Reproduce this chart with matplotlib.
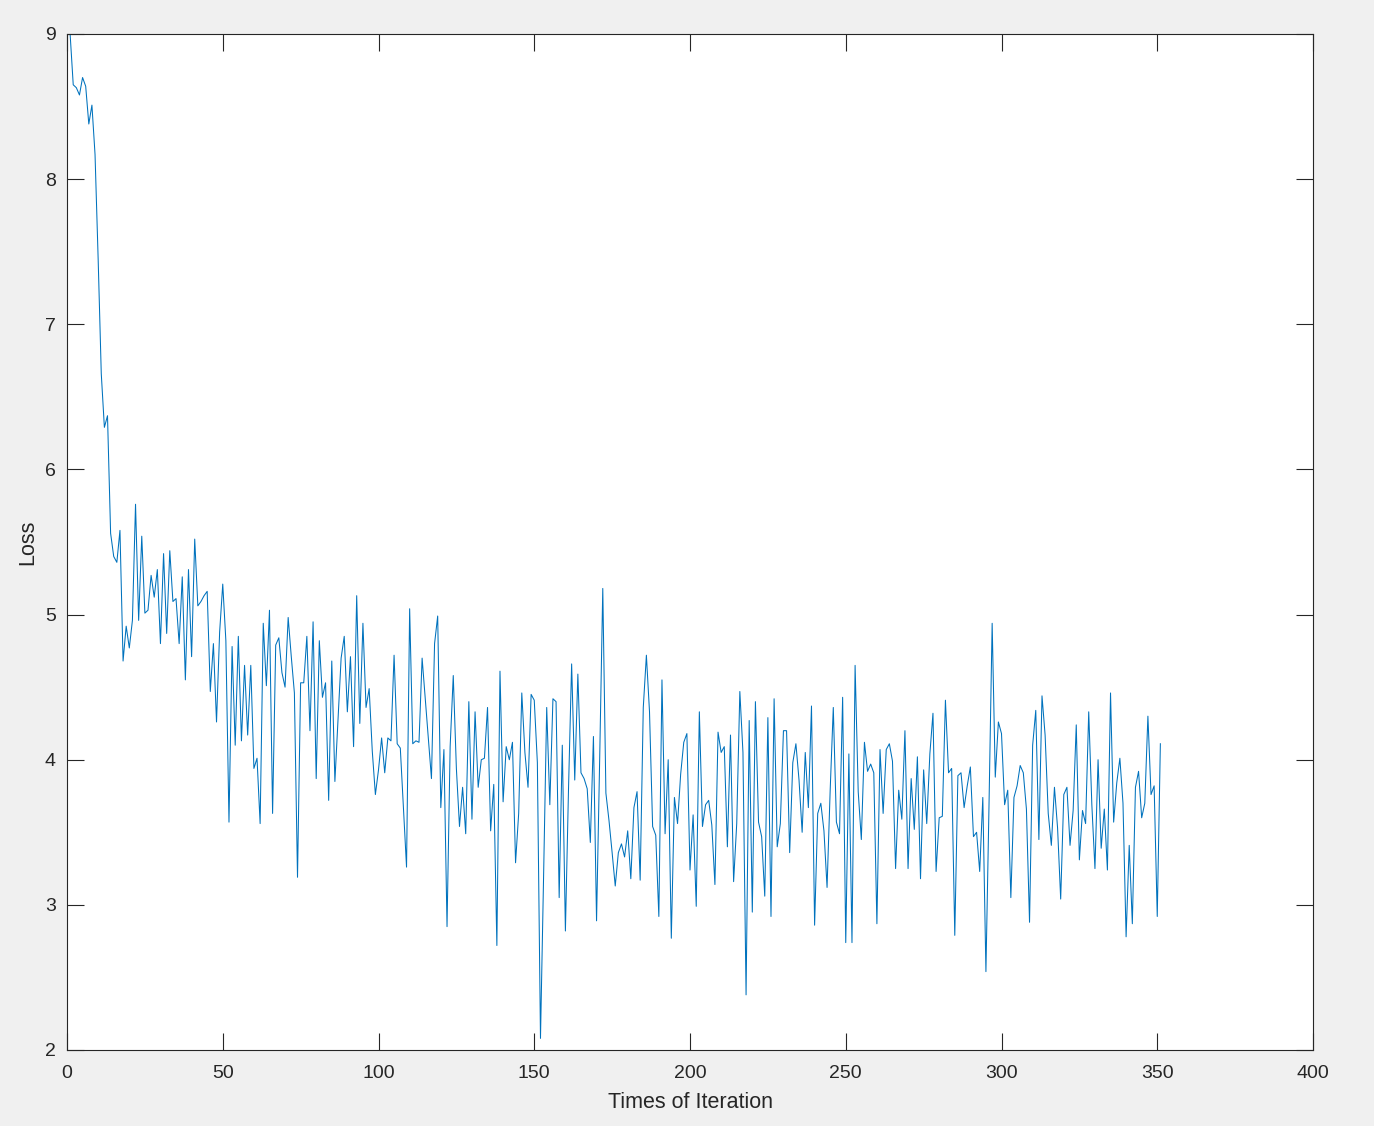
"""
Loss curve over training iterations (MATLAB-style figure)
"""
import matplotlib.pyplot as plt

loss = [
    9.00, 8.65, 8.63, 8.58, 8.70, 8.64, 8.38, 8.51, 8.17, 7.45,
    6.66, 6.29, 6.37, 5.56, 5.40, 5.36, 5.58, 4.68, 4.92, 4.77,
    4.96, 5.76, 4.96, 5.54, 5.01, 5.03, 5.27, 5.12, 5.31, 4.80,
    5.42, 4.87, 5.44, 5.09, 5.11, 4.80, 5.26, 4.55, 5.31, 4.71,
    5.52, 5.06, 5.09, 5.13, 5.16, 4.47, 4.80, 4.26, 4.88, 5.21,
    4.82, 3.57, 4.78, 4.10, 4.85, 4.13, 4.65, 4.17, 4.65, 3.94,
    4.01, 3.56, 4.94, 4.51, 5.03, 3.63, 4.79, 4.84, 4.60, 4.50,
    4.98, 4.71, 4.46, 3.19, 4.53, 4.53, 4.85, 4.20, 4.95, 3.87,
    4.82, 4.43, 4.53, 3.72, 4.68, 3.85, 4.28, 4.70, 4.85, 4.33,
    4.71, 4.09, 5.13, 4.25, 4.94, 4.36, 4.49, 4.06, 3.76, 3.93,
    4.15, 3.91, 4.15, 4.13, 4.72, 4.11, 4.08, 3.67, 3.26, 5.04,
    4.11, 4.13, 4.12, 4.70, 4.42, 4.15, 3.87, 4.80, 4.99, 3.67,
    4.07, 2.85, 4.09, 4.58, 3.94, 3.54, 3.81, 3.49, 4.40, 3.59,
    4.33, 3.81, 4.00, 4.01, 4.36, 3.51, 3.83, 2.72, 4.61, 3.71,
    4.09, 4.00, 4.12, 3.29, 3.63, 4.46, 4.05, 3.81, 4.45, 4.41,
    3.98, 2.08, 3.20, 4.36, 3.69, 4.42, 4.40, 3.05, 4.10, 2.82,
    3.80, 4.66, 3.86, 4.59, 3.91, 3.87, 3.80, 3.43, 4.16, 2.89,
    4.00, 5.18, 3.77, 3.58, 3.36, 3.13, 3.36, 3.42, 3.33, 3.51,
    3.18, 3.67, 3.78, 3.17, 4.36, 4.72, 4.33, 3.54, 3.48, 2.92,
    4.55, 3.49, 4.00, 2.77, 3.74, 3.56, 3.90, 4.12, 4.18, 3.24,
    3.62, 2.99, 4.33, 3.54, 3.69, 3.72, 3.55, 3.14, 4.19, 4.05,
    4.09, 3.40, 4.17, 3.16, 3.56, 4.47, 4.05, 2.38, 4.27, 2.95,
    4.40, 3.57, 3.47, 3.06, 4.29, 2.92, 4.42, 3.40, 3.56, 4.20,
    4.20, 3.36, 3.98, 4.11, 3.86, 3.50, 4.05, 3.67, 4.37, 2.86,
    3.63, 3.70, 3.51, 3.12, 3.79, 4.36, 3.57, 3.49, 4.43, 2.74,
    4.04, 2.74, 4.65, 3.78, 3.45, 4.12, 3.92, 3.97, 3.91, 2.87,
    4.07, 3.63, 4.07, 4.11, 3.99, 3.25, 3.79, 3.59, 4.20, 3.25,
    3.87, 3.52, 4.02, 3.18, 3.93, 3.56, 4.04, 4.32, 3.23, 3.60,
    3.61, 4.41, 3.91, 3.94, 2.79, 3.89, 3.91, 3.67, 3.82, 3.95,
    3.47, 3.50, 3.23, 3.74, 2.54, 3.70, 4.94, 3.88, 4.26, 4.18,
    3.69, 3.79, 3.05, 3.74, 3.82, 3.96, 3.91, 3.66, 2.88, 4.10,
    4.34, 3.45, 4.44, 4.17, 3.63, 3.41, 3.81, 3.53, 3.04, 3.76,
    3.81, 3.41, 3.65, 4.24, 3.31, 3.65, 3.56, 4.33, 3.69, 3.25,
    4.00, 3.39, 3.66, 3.24, 4.46, 3.57, 3.84, 4.01, 3.70, 2.78,
    3.41, 2.87, 3.81, 3.92, 3.60, 3.70, 4.30, 3.76, 3.82, 2.92,
    4.11,
]
iterations = list(range(1, len(loss) + 1))

xticks = [0, 50, 100, 150, 200, 250, 300, 350, 400]
yticks = [2, 3, 4, 5, 6, 7, 8, 9]

plt.rcParams['font.family'] = ['Liberation Sans', 'DejaVu Sans']

fig = plt.figure(figsize=(13.74, 11.26), dpi=100, facecolor='#f0f0f0')
ax = fig.add_axes([67 / 1374, 1 - 1050 / 1126, (1313 - 67) / 1374, (1050 - 34) / 1126])

ax.plot(iterations, loss, color='#0072bd', linewidth=0.75)

ax.set_xlim(0, 400)
ax.set_ylim(2, 9)
ax.set_xticks(xticks)
ax.set_yticks(yticks)

axcol = '#262626'
for s in ax.spines.values():
    s.set_color(axcol)
    s.set_linewidth(0.8)
ax.tick_params(direction='in', length=12, width=0.8, color=axcol, labelcolor=axcol,
               labelsize=14, top=True, right=True)
ax.tick_params(axis='x', pad=11)
ax.tick_params(axis='y', pad=8)

# add some text for labels
ax.set_xlabel('Times of Iteration', fontsize=15.5, color=axcol, labelpad=7)
ax.set_ylabel('Loss', fontsize=15.5, color=axcol, labelpad=5)

plt.savefig('out.png', dpi=100, facecolor=fig.get_facecolor())
